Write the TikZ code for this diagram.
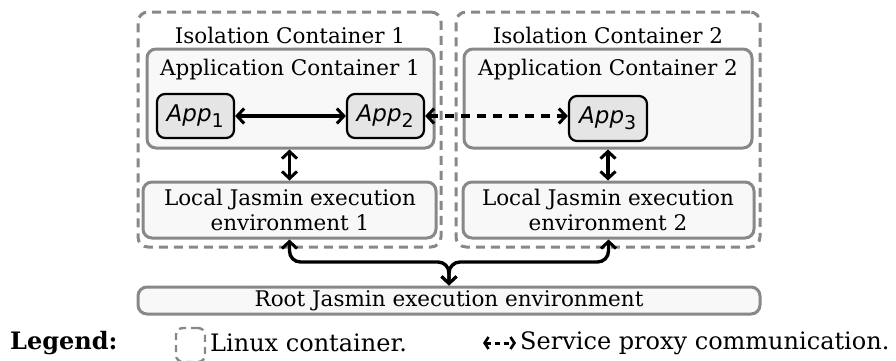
\documentclass[tikz,border=0pt]{standalone}
\usepackage{fontspec}
\setmainfont{DejaVu Serif}
\newfontfamily\appfont{DejaVu Sans}
\usetikzlibrary{arrows.meta}
\definecolor{bordergray}{HTML}{888888}
\definecolor{boxfill}{HTML}{F8F8F8}
\definecolor{appfill}{HTML}{E5E5E5}
\tikzset{
  isobox/.style={draw=bordergray, line width=3pt, dash pattern=on 9pt off 6pt, rounded corners=10pt, minimum width=#1, minimum height=235pt, inner sep=0pt},
  contbox/.style={draw=bordergray, fill=boxfill, line width=3pt, rounded corners=9pt, inner sep=0pt},
  appbox/.style={draw=black, fill=appfill, line width=2.2pt, rounded corners=8pt, minimum width=77pt, minimum height=44pt, inner sep=0pt, font=\appfont\fontsize{23}{26}\selectfont},
  lbl/.style={font=\fontsize{21.5}{25.5}\selectfont, inner sep=0pt, align=center},
  leglbl/.style={font=\fontsize{24}{28}\selectfont, inner sep=0pt, anchor=west},
  conn/.style={line width=3.4pt, {Straight Barb[length=7pt,width=15pt,line width=3pt]}-{Straight Barb[length=7pt,width=15pt,line width=3pt]}},
}
\newcommand{\appname}[1]{\textit{App}\textsubscript{\fontsize{19}{21}\selectfont #1}}
\begin{document}
\begin{tikzpicture}[x=1pt,y=-1pt]
\useasboundingbox (0,0) rectangle (896,360);
% isolation containers
\node[isobox=303pt] (iso1) at (289.5,129.5) {};
\node[isobox=304pt] (iso2) at (608,129.5) {};
\node[lbl] (iso1t) at (290,35) {Isolation Container 1};
\node[lbl] (iso2t) at (608,35) {Isolation Container 2};
% application containers
\node[contbox, minimum width=287pt, minimum height=99pt] (ac1) at (290.5,98.5) {};
\node[contbox, minimum width=288pt, minimum height=99pt] (ac2) at (608,98.5) {};
\node[lbl] (ac1t) at (290,70) {Application Container 1};
\node[lbl] (ac2t) at (608,70) {Application Container 2};
% apps
\node[appbox] (app1) at (195.5,116) {\appname{1}};
\node[appbox] (app2) at (385.5,116) {\appname{2}};
\node[appbox, minimum width=78pt, minimum height=45pt] (app3) at (608,118.5) {\appname{3}};
% local environments
\node[contbox, minimum width=293pt, minimum height=56pt] (loc1) at (289.5,210) {};
\node[contbox, minimum width=291pt, minimum height=56pt] (loc2) at (608.5,210) {};
\node[lbl] (loc1t) at (290,210) {Local Jasmin execution\\environment 1};
\node[lbl] (loc2t) at (608,210) {Local Jasmin execution\\environment 2};
% root
\node[contbox, minimum width=622pt, minimum height=27pt] (root) at (449,300.5) {};
\node[lbl] (roott) at (449,300.5) {Root Jasmin execution environment};
% connectors
\draw[conn] (app1.east) -- (app2.west);
\draw[conn, dash pattern=on 9pt off 7pt] (app2.east) -- (app3.west |- app2.east);
\draw[conn] (ac1.south -| loc1.north) -- (loc1.north);
\draw[conn] (ac2.south -| app3.south) -- (app3.south |- loc2.north);
\coordinate (j) at (449,262);
\draw[conn, rounded corners=11pt] (loc1.south) |- (j) -- (root.north);
\draw[conn, rounded corners=11pt] (loc2.south) |- (j) -- (root.north);
% legend
\node[leglbl, font=\bfseries\fontsize{24}{28}\selectfont] (leg) at (10,343) {Legend:};
\node[draw=bordergray, line width=2.4pt, dash pattern=on 7pt off 5pt, rounded corners=7pt, minimum width=29pt, minimum height=34pt, inner sep=0pt] (legbox) at (190.5,345) {};
\node[leglbl] (legt1) at (210,343) {Linux container.};
\coordinate (la) at (483,343);
\coordinate (lb) at (516,343);
\draw[line width=3pt, dash pattern=on 5pt off 4pt, {Straight Barb[length=4pt,width=12pt,line width=2.6pt]}-{Straight Barb[length=4pt,width=12pt,line width=2.6pt]}] (la) -- (lb);
\node[leglbl] (legt2) at (520,343) {Service proxy communication.};
\end{tikzpicture}
\end{document}
